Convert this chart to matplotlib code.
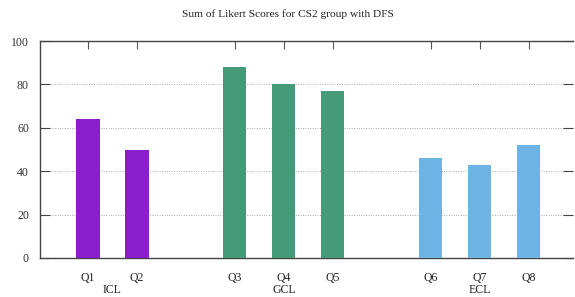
import matplotlib
matplotlib.use("Agg")
import matplotlib.pyplot as plt

questions = ["Q1", "Q2", "Q3", "Q4", "Q5", "Q6", "Q7", "Q8"]
scores = [64, 50, 88, 80, 77, 46, 43, 52]
groups = ["ICL", "ICL", "GCL", "GCL", "GCL", "ECL", "ECL", "ECL"]
group_names = ["ICL", "GCL", "ECL"]
group_colors = {"ICL": "#8A1DCC", "GCL": "#459B77", "ECL": "#6DB3E3"}
yticks = [0, 20, 40, 60, 80, 100]

# positions: groups separated by one empty slot
positions = []
p = 0
prev = None
for g in groups:
    if prev is not None and g != prev:
        p += 1
    positions.append(p)
    p += 1
    prev = g

plt.rcParams['font.family'] = ['Liberation Serif', 'DejaVu Serif']

fig = plt.figure(figsize=(5.75, 2.97), dpi=100)
ax = fig.add_axes([40/575, 1-258/297, (573-40)/575, (258-41)/297])

ax.bar(positions, scores, width=0.47, color=[group_colors[g] for g in groups], zorder=3)

ax.set_xlim(-0.98, 9.9)
ax.set_ylim(0, 100)
ax.set_yticks(yticks)
ax.set_yticklabels([str(v) for v in yticks], fontsize=8.5, color="#333333")
ax.set_xticks(positions)
ax.set_xticklabels(questions, fontsize=8.5, color="#222222")

for yv in yticks[1:-1]:
    ax.axhline(yv, color="#aaaaaa", linestyle=(0, (1, 1.5)), linewidth=0.7, zorder=1)

ax.tick_params(axis='x', bottom=False, top=True, labelbottom=True, labeltop=False,
               direction='in', length=6, width=0.8, color="#555555", pad=10)
ax.tick_params(axis='y', left=True, right=True, direction='in', length=7, width=0.8,
               color="#444444", pad=8)

for s in ["left", "bottom", "top"]:
    ax.spines[s].set_color("#444444")
    ax.spines[s].set_linewidth(1.0)
ax.spines["right"].set_visible(False)

# group labels under the question labels
for gname in group_names:
    ps = [positions[i] for i, g in enumerate(groups) if g == gname]
    cx = sum(ps) / len(ps)
    ax.text(cx, -0.118, gname, transform=ax.get_xaxis_transform(), ha="center", va="top",
            fontsize=8.5, color="#222222")

fig.text(0.5, 1-14/297, "Sum of Likert Scores for CS2 group with DFS", ha="center", va="center",
         fontsize=8.2, color="#222222")

fig.savefig("out.png", dpi=100)
